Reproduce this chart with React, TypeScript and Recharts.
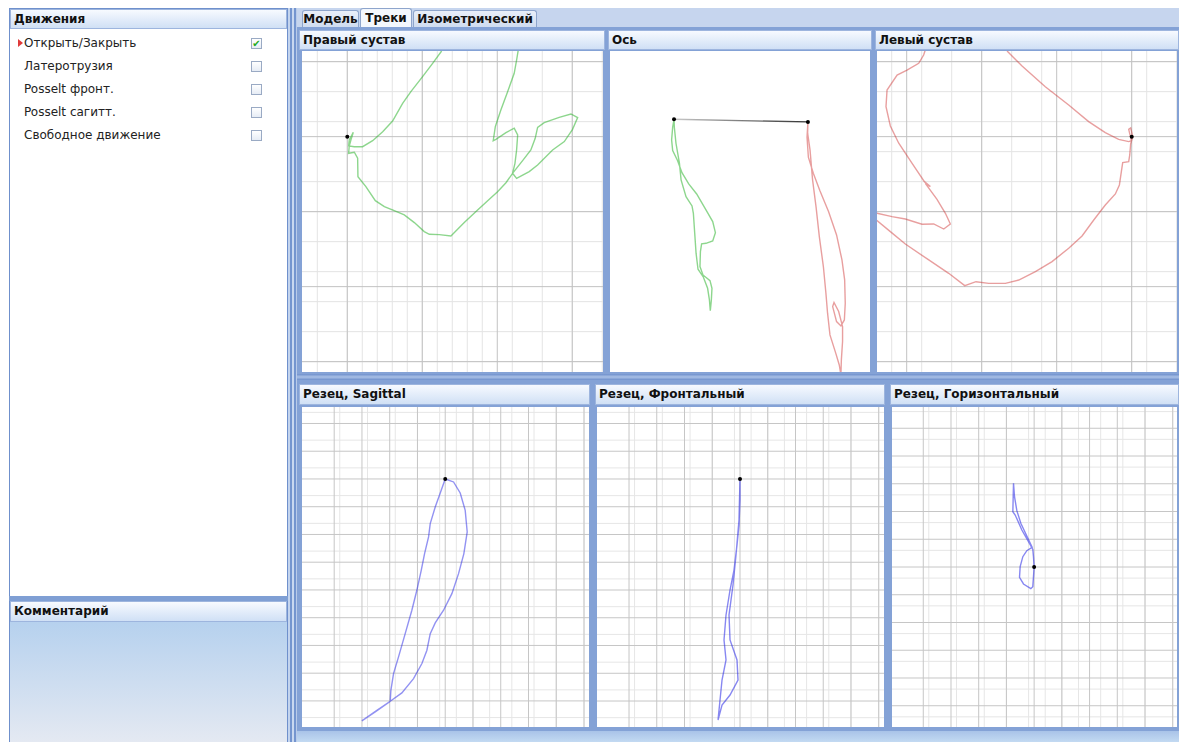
import { CartesianGrid, Line, LineChart, ReferenceDot, XAxis, YAxis } from 'recharts'

type Pt = { x: number; y: number }

// units: one minor grid cell, origin = black marker of each view

// Правый сустав (green)
const rightJointTrack: Pt[] = [
  { x: 6.29, y: 5.71 }, { x: 5.69, y: 4.89 }, { x: 5.02, y: 4.0 }, { x: 4.24, y: 3.0 },
  { x: 3.69, y: 2.22 }, { x: 3.02, y: 1.04 }, { x: 2.36, y: 0.33 }, { x: 1.69, y: -0.27 },
  { x: 1.02, y: -0.67 }, { x: 0.47, y: -0.67 }, { x: 0.09, y: -0.62 }, { x: 0.13, y: -0.22 },
  { x: 0.4, y: 0.29 }, { x: 0.24, y: -0.22 }, { x: 0.13, y: -0.62 }, { x: 0.09, y: -1.11 },
  { x: 0.47, y: -1.04 }, { x: 0.69, y: -1.44 }, { x: 0.71, y: -2.67 }, { x: 1.24, y: -3.33 },
  { x: 1.87, y: -4.27 }, { x: 2.47, y: -4.67 }, { x: 3.13, y: -4.93 }, { x: 3.8, y: -5.22 },
  { x: 4.47, y: -5.73 }, { x: 5.13, y: -6.33 }, { x: 5.47, y: -6.51 }, { x: 6.13, y: -6.53 },
  { x: 6.91, y: -6.62 }, { x: 7.8, y: -5.73 }, { x: 8.69, y: -4.89 }, { x: 9.47, y: -4.18 },
  { x: 10.02, y: -3.67 }, { x: 10.58, y: -3.07 }, { x: 11.07, y: -2.38 }, { x: 11.69, y: -1.6 },
  { x: 12.24, y: -0.89 }, { x: 12.53, y: -0.11 }, { x: 12.69, y: 0.62 }, { x: 13.13, y: 0.93 },
  { x: 14.13, y: 1.29 }, { x: 14.91, y: 1.51 }, { x: 15.36, y: 1.27 }, { x: 15.02, y: 0.49 },
  { x: 14.47, y: -0.33 }, { x: 13.69, y: -0.89 }, { x: 12.69, y: -1.89 }, { x: 12.13, y: -2.33 },
  { x: 11.29, y: -2.78 }, { x: 11.02, y: -2.44 }, { x: 11.18, y: -1.78 }, { x: 11.29, y: -0.89 },
  { x: 11.36, y: 0.11 }, { x: 11.13, y: 0.56 }, { x: 10.58, y: 0.27 }, { x: 9.91, y: -0.18 },
  { x: 9.73, y: -0.27 }, { x: 9.87, y: 0.67 }, { x: 10.24, y: 1.78 }, { x: 10.69, y: 3.0 },
  { x: 11.13, y: 4.22 }, { x: 11.29, y: 5.11 }, { x: 11.4, y: 5.78 },
]

// Левый сустав (red)
const leftJointTrack: Pt[] = [
  { x: -8.31, y: 5.71 }, { x: -7.31, y: 4.71 }, { x: -5.76, y: 3.33 }, { x: -4.2, y: 2.11 },
  { x: -2.87, y: 1.0 }, { x: -1.76, y: 0.27 }, { x: -0.87, y: -0.18 }, { x: -0.2, y: -0.33 },
  { x: -0.02, y: -0.27 }, { x: -0.2, y: 0.49 }, { x: -0.07, y: 0.58 }, { x: 0.07, y: 0 },
  { x: -0.07, y: -0.49 }, { x: -0.13, y: -1.22 }, { x: -0.2, y: -1.67 }, { x: -0.6, y: -1.73 },
  { x: -0.69, y: -2.33 }, { x: -0.82, y: -3.22 }, { x: -1.09, y: -3.82 }, { x: -1.76, y: -4.56 },
  { x: -2.53, y: -5.56 }, { x: -3.31, y: -6.62 }, { x: -4.2, y: -7.44 }, { x: -5.31, y: -8.33 },
  { x: -6.42, y: -9.0 }, { x: -7.53, y: -9.56 }, { x: -8.42, y: -9.78 }, { x: -9.53, y: -9.78 },
  { x: -10.38, y: -9.67 }, { x: -11.13, y: -9.93 }, { x: -12.2, y: -9.11 }, { x: -13.53, y: -8.22 },
  { x: -15.09, y: -7.16 }, { x: -16.09, y: -6.33 }, { x: -16.98, y: -5.6 }, { x: -17.76, y: -5.11 },
  { x: -16.98, y: -5.11 }, { x: -15.98, y: -5.33 }, { x: -15.09, y: -5.49 }, { x: -13.98, y: -5.84 },
  { x: -13.2, y: -5.82 }, { x: -12.53, y: -6.16 }, { x: -12.09, y: -5.82 }, { x: -12.42, y: -5.11 },
  { x: -12.98, y: -4.18 }, { x: -13.76, y: -3.11 }, { x: -13.42, y: -3.33 }, { x: -13.82, y: -3.0 },
  { x: -14.64, y: -1.78 }, { x: -15.53, y: -0.44 }, { x: -16.09, y: 0.71 }, { x: -16.38, y: 2.0 },
  { x: -16.31, y: 3.11 }, { x: -15.64, y: 4.11 }, { x: -14.98, y: 4.44 }, { x: -14.2, y: 4.89 },
  { x: -13.87, y: 5.44 }, { x: -13.76, y: 5.78 },
]

// Ось
const axisLine: Pt[] = [{ x: 0, y: 0 }, { x: 8.93, y: -0.18 }]
const axisGreenTrack: Pt[] = [
  { x: 0, y: 0 }, { x: -0.09, y: -0.53 }, { x: -0.16, y: -1.38 }, { x: -0.09, y: -2.09 },
  { x: 0.24, y: -2.76 }, { x: 0.53, y: -3.56 }, { x: 0.98, y: -4.31 }, { x: 1.51, y: -4.98 },
  { x: 2.13, y: -6.04 }, { x: 2.58, y: -6.82 }, { x: 2.76, y: -7.56 }, { x: 2.58, y: -8.11 },
  { x: 2.13, y: -8.27 }, { x: 1.84, y: -8.31 }, { x: 1.76, y: -8.82 }, { x: 1.73, y: -9.82 },
  { x: 1.93, y: -10.38 }, { x: 2.4, y: -10.76 }, { x: 2.53, y: -11.27 }, { x: 2.49, y: -12.04 },
  { x: 2.42, y: -12.76 }, { x: 2.36, y: -12.04 }, { x: 2.24, y: -11.27 }, { x: 1.96, y: -10.53 },
  { x: 1.6, y: -10.0 }, { x: 1.47, y: -8.93 }, { x: 1.38, y: -7.6 }, { x: 1.29, y: -6.27 },
  { x: 1.2, y: -5.78 }, { x: 0.8, y: -5.16 }, { x: 0.47, y: -4.04 }, { x: 0.36, y: -2.93 },
  { x: 0.13, y: -1.6 }, { x: 0.02, y: -0.53 }, { x: 0, y: 0 },
]
const axisRedTrack: Pt[] = [
  { x: 11.13, y: -17.04 }, { x: 11.02, y: -16.38 }, { x: 10.8, y: -15.64 }, { x: 10.4, y: -14.38 },
  { x: 10.24, y: -12.93 }, { x: 10.13, y: -11.6 }, { x: 9.96, y: -9.82 }, { x: 9.69, y: -7.82 },
  { x: 9.47, y: -5.82 }, { x: 9.24, y: -4.04 }, { x: 9.07, y: -2.04 }, { x: 8.91, y: -0.93 },
  { x: 8.93, y: -0.18 }, { x: 8.87, y: -1.2 }, { x: 8.96, y: -2.53 }, { x: 9.29, y: -3.6 },
  { x: 9.73, y: -4.76 }, { x: 10.31, y: -6.16 }, { x: 10.84, y: -7.71 }, { x: 11.2, y: -9.38 },
  { x: 11.38, y: -10.71 }, { x: 11.42, y: -12.27 }, { x: 11.36, y: -13.38 }, { x: 11.13, y: -13.78 },
  { x: 10.84, y: -13.49 }, { x: 10.58, y: -12.49 }, { x: 10.67, y: -12.22 }, { x: 10.98, y: -12.82 },
  { x: 11.24, y: -13.82 }, { x: 11.24, y: -14.82 }, { x: 11.16, y: -16.04 }, { x: 11.13, y: -17.04 },
]

// Резец (blue)
const sagittalTrack: Pt[] = [
  { x: -15.02, y: -43.6 }, { x: -12.61, y: -41.98 }, { x: -9.91, y: -40.06 }, { x: -9.79, y: -38.08 },
  { x: -9.31, y: -35.08 }, { x: -8.41, y: -32.07 }, { x: -7.21, y: -27.87 }, { x: -6.01, y: -23.66 },
  { x: -5.11, y: -20.06 }, { x: -4.32, y: -16.46 }, { x: -3.72, y: -13.45 }, { x: -3.0, y: -10.45 },
  { x: -2.7, y: -8.05 }, { x: -1.8, y: -5.05 }, { x: -0.72, y: -2.04 }, { x: 0, y: 0 },
  { x: 1.5, y: -0.54 }, { x: 2.7, y: -2.52 }, { x: 3.6, y: -5.65 }, { x: 3.96, y: -9.55 },
  { x: 3.36, y: -13.45 }, { x: 2.4, y: -17.06 }, { x: 1.2, y: -20.66 }, { x: -0.3, y: -23.66 },
  { x: -1.8, y: -25.95 }, { x: -2.7, y: -27.87 }, { x: -3.3, y: -30.87 }, { x: -4.2, y: -33.27 },
  { x: -5.71, y: -35.98 }, { x: -7.81, y: -38.56 }, { x: -9.91, y: -40.06 }, { x: -12.31, y: -41.68 },
  { x: -15.02, y: -43.6 },
]
const frontalTrack: Pt[] = [
  { x: 0, y: 0 }, { x: 0, y: -3.78 }, { x: -0.18, y: -8.29 }, { x: -0.54, y: -11.89 },
  { x: -1.08, y: -16.4 }, { x: -1.8, y: -20.0 }, { x: -2.52, y: -24.5 }, { x: -2.88, y: -29.0 },
  { x: -2.52, y: -32.61 }, { x: -3.24, y: -36.22 }, { x: -3.6, y: -39.82 }, { x: -3.96, y: -43.42 },
  { x: -3.24, y: -40.72 }, { x: -1.8, y: -38.92 }, { x: -0.36, y: -36.22 }, { x: -0.54, y: -32.61 },
  { x: -1.8, y: -29.0 }, { x: -1.98, y: -24.5 }, { x: -1.26, y: -19.1 }, { x: -0.72, y: -13.69 },
  { x: -0.18, y: -7.39 }, { x: 0, y: 0 },
]
const horizontalTrack: Pt[] = [
  { x: -3.72, y: 15.08 }, { x: -3.54, y: 12.67 }, { x: -3.12, y: 10.15 }, { x: -2.4, y: 7.87 },
  { x: -1.32, y: 5.59 }, { x: -0.36, y: 3.54 }, { x: -1.32, y: 2.94 }, { x: -2.04, y: 1.86 },
  { x: -2.52, y: 0.06 }, { x: -2.64, y: -1.86 }, { x: -1.92, y: -3.06 }, { x: -0.6, y: -3.9 },
  { x: -0.24, y: -3.54 }, { x: 0, y: 0 }, { x: -0.12, y: 1.86 }, { x: -0.24, y: 3.18 },
  { x: -1.02, y: 4.56 }, { x: -2.22, y: 6.67 }, { x: -3.42, y: 9.37 }, { x: -3.84, y: 9.97 },
  { x: -3.78, y: 12.67 }, { x: -3.72, y: 15.08 },
]

const movements = ['Открыть/Закрыть', 'Латеротрузия', 'Posselt фронт.', 'Posselt сагитт.', 'Свободное движение']
const movementChecked = [true, false, false, false, false]
const tabs = ['Модель', 'Треки', 'Изометрический']
const activeTab = 1

const GREEN = '#2fb52f'
const RED = '#cc2a2a'
const BLUE = '#2525e6'
const FONT = '"DejaVu Sans", Verdana, sans-serif'

const steps = (from: number, to: number, step: number) => {
  const out: number[] = []
  for (let v = Math.ceil(from / step) * step; v <= to + 1e-9; v += step) out.push(v)
  return out
}

type Track = { data: Pt[]; color: string; opacity?: number }

type PlotProps = {
  left: number
  top: number
  width: number
  height: number
  xDomain: [number, number]
  yDomain: [number, number]
  grid?: boolean
  minor?: string
  major?: string
  tracks: Track[]
  markers: Pt[]
  gradientLine?: Pt[]
}

const TrackPlot = ({ left, top, width, height, xDomain, yDomain, grid = true, minor = '#e4e4e4', major = '#c2c2c2', tracks, markers, gradientLine }: PlotProps) => (
  <div style={{ position: 'absolute', left, top, width, height, background: '#fff', overflow: 'hidden' }}>
    <LineChart width={width} height={height} margin={{ top: 0, right: 0, bottom: 0, left: 0 }}>
      <defs>
        <linearGradient id="axisGrad" x1="0" y1="0" x2="1" y2="0">
          <stop offset="0%" stopColor="#c8c8c8" />
          <stop offset="100%" stopColor="#333" />
        </linearGradient>
      </defs>
      <XAxis type="number" dataKey="x" domain={xDomain} allowDataOverflow hide />
      <YAxis type="number" dataKey="y" domain={yDomain} allowDataOverflow hide />
      {grid && (
        <CartesianGrid
          stroke={minor}
          verticalValues={steps(xDomain[0], xDomain[1], 1)}
          horizontalValues={steps(yDomain[0], yDomain[1], 1)}
        />
      )}
      {grid && (
        <CartesianGrid
          stroke={major}
          verticalValues={steps(xDomain[0], xDomain[1], 5)}
          horizontalValues={steps(yDomain[0], yDomain[1], 5)}
        />
      )}
      {gradientLine && (
        <Line data={gradientLine} dataKey="y" stroke="url(#axisGrad)" strokeWidth={1.3} dot={false} isAnimationActive={false} />
      )}
      {tracks.map((t, i) => (
        <Line
          key={i}
          data={t.data}
          dataKey="y"
          type="linear"
          stroke={t.color}
          strokeOpacity={t.opacity ?? 0.55}
          strokeWidth={1.4}
          dot={false}
          isAnimationActive={false}
        />
      ))}
      {markers.map((m, i) => (
        <ReferenceDot key={i} x={m.x} y={m.y} r={2} fill="#000" stroke="none" />
      ))}
    </LineChart>
  </div>
)

const Header = ({ left, top, width, height, title }: { left: number; top: number; width: number; height: number; title: string }) => (
  <div
    style={{
      position: 'absolute', left, top, width, height, boxSizing: 'border-box',
      border: '1px solid #9db5de', background: 'linear-gradient(#f7faff, #d0e0f5)',
      font: `bold 12px ${FONT}`, lineHeight: `${height - 2}px`, paddingLeft: 3,
      color: '#111', whiteSpace: 'nowrap', overflow: 'hidden',
    }}
  >
    {title}
  </div>
)

const Box = ({ left, top, width, height, bg }: { left: number; top: number; width: number; height: number; bg: string }) => (
  <div style={{ position: 'absolute', left, top, width, height, background: bg }} />
)

export default function App() {
  return (
    <div style={{ position: 'absolute', left: 0, top: 0, width: 1179, height: 742, background: '#fff', overflow: 'hidden', fontFamily: FONT }}>
      {/* left side */}
      <Box left={9} top={8} width={279} height={734} bg="#6f90cc" />
      <Header left={10} top={9} width={277} height={20} title="Движения" />
      <div style={{ position: 'absolute', left: 10, top: 29, width: 277, height: 567, background: '#fff' }}>
        {movements.map((m, i) => (
          <div key={m} style={{ position: 'absolute', left: 0, top: 3 + 23 * i, width: 277, height: 23, font: `12px ${FONT}`, lineHeight: '23px', color: '#222' }}>
            {i === 0 && (
              <div style={{ position: 'absolute', left: 8, top: 7, width: 0, height: 0, borderTop: '4px solid transparent', borderBottom: '4px solid transparent', borderLeft: '5px solid #e03a3a' }} />
            )}
            <span style={{ position: 'absolute', left: 14 }}>{m}</span>
            <div style={{ position: 'absolute', left: 241, top: 6, width: 9, height: 9, border: '1px solid #9aaac4', background: 'linear-gradient(#ffffff, #e6ecf5)', font: `bold 10px ${FONT}`, lineHeight: '9px', textAlign: 'center', color: '#1faa1f' }}>
              {movementChecked[i] ? '✔' : ''}
            </div>
          </div>
        ))}
      </div>
      <Box left={9} top={596} width={279} height={5} bg="#7f9fd4" />
      <Header left={10} top={601} width={277} height={21} title="Комментарий" />
      <Box left={10} top={622} width={277} height={120} bg="linear-gradient(#b6d1ee, #e4e9f2)" />

      {/* splitter */}
      <div style={{ position: 'absolute', left: 288, top: 8, width: 9, height: 734, background: 'linear-gradient(to right, #c3d4ee 0 2px, #7495cf 2px 4px, #c9d8f0 4px 6px, #7495cf 6px 8px, #b9cbe9 8px 9px)' }} />

      {/* tabs */}
      <Box left={297} top={8} width={882} height={19} bg="#c6d5ee" />
      {tabs.map((t, i) => {
        const lefts = [302, 360, 413]
        const widths = [57, 52, 124]
        const active = i === activeTab
        return (
          <div
            key={t}
            style={{
              position: 'absolute', left: lefts[i], top: active ? 8 : 10, width: widths[i], height: active ? 19 : 17,
              boxSizing: 'border-box', border: '1px solid #8ea5cc', borderBottom: 'none', borderRadius: '3px 3px 0 0',
              background: active ? '#f3f7fd' : 'linear-gradient(#e9eff9, #cfdcf0)',
              font: `bold 12px ${FONT}`, lineHeight: active ? '18px' : '16px', textAlign: 'center', color: '#111',
            }}
          >
            {t}
          </div>
        )
      })}

      {/* views frame */}
      <Box left={297} top={27} width={882} height={715} bg="#84a2d6" />
      <Box left={297} top={374} width={882} height={6} bg="linear-gradient(#6f90cc, #a9c0e6, #6f90cc)" />

      <Header left={299} top={30} width={306} height={20} title="Правый сустав" />
      <TrackPlot
        left={302} top={51} width={301} height={321}
        xDomain={[-3.02, 17.05]} yDomain={[-15.69, 5.71]}
        tracks={[{ data: rightJointTrack, color: GREEN }]}
        markers={[{ x: 0, y: 0 }]}
      />

      <Header left={608} top={30} width={264} height={20} title="Ось" />
      <TrackPlot
        left={610} top={51} width={260} height={321}
        xDomain={[-4.27, 13.07]} yDomain={[-16.85, 4.55]}
        grid={false}
        gradientLine={axisLine}
        tracks={[{ data: axisGreenTrack, color: GREEN }, { data: axisRedTrack, color: RED, opacity: 0.45 }]}
        markers={[{ x: 0, y: 0 }, { x: 8.93, y: -0.18 }]}
      />

      <Header left={875} top={30} width={304} height={20} title="Левый сустав" />
      <TrackPlot
        left={877} top={51} width={300} height={321}
        xDomain={[-16.98, 3.02]} yDomain={[-15.69, 5.71]}
        tracks={[{ data: leftJointTrack, color: RED, opacity: 0.45 }]}
        markers={[{ x: 0, y: 0 }]}
      />

      <Header left={299} top={384} width={291} height={21} title="Резец, Sagittal" />
      <TrackPlot
        left={302} top={407} width={287} height={320}
        xDomain={[-25.8, 25.9]} yDomain={[-44.7, 12.97]}
        minor="#e6e6e6" major="#c6c6c6"
        tracks={[{ data: sagittalTrack, color: BLUE, opacity: 0.5 }]}
        markers={[{ x: 0, y: 0 }]}
      />

      <Header left={595} top={384} width={290} height={21} title="Резец, Фронтальный" />
      <TrackPlot
        left={597} top={407} width={287} height={320}
        xDomain={[-25.77, 25.95]} yDomain={[-44.68, 12.97]}
        minor="#e6e6e6" major="#c6c6c6"
        tracks={[{ data: frontalTrack, color: BLUE, opacity: 0.55 }]}
        markers={[{ x: 0, y: 0 }]}
      />

      <Header left={890} top={384} width={289} height={21} title="Резец, Горизонтальный" />
      <TrackPlot
        left={892} top={407} width={285} height={320}
        xDomain={[-25.64, 25.77]} yDomain={[-28.83, 28.83]}
        minor="#e6e6e6" major="#c6c6c6"
        tracks={[{ data: horizontalTrack, color: BLUE, opacity: 0.55 }]}
        markers={[{ x: 0, y: 0 }]}
      />

      <Box left={297} top={731} width={882} height={11} bg="linear-gradient(#a9c3e8, #c3daf2)" />
    </div>
  )
}
